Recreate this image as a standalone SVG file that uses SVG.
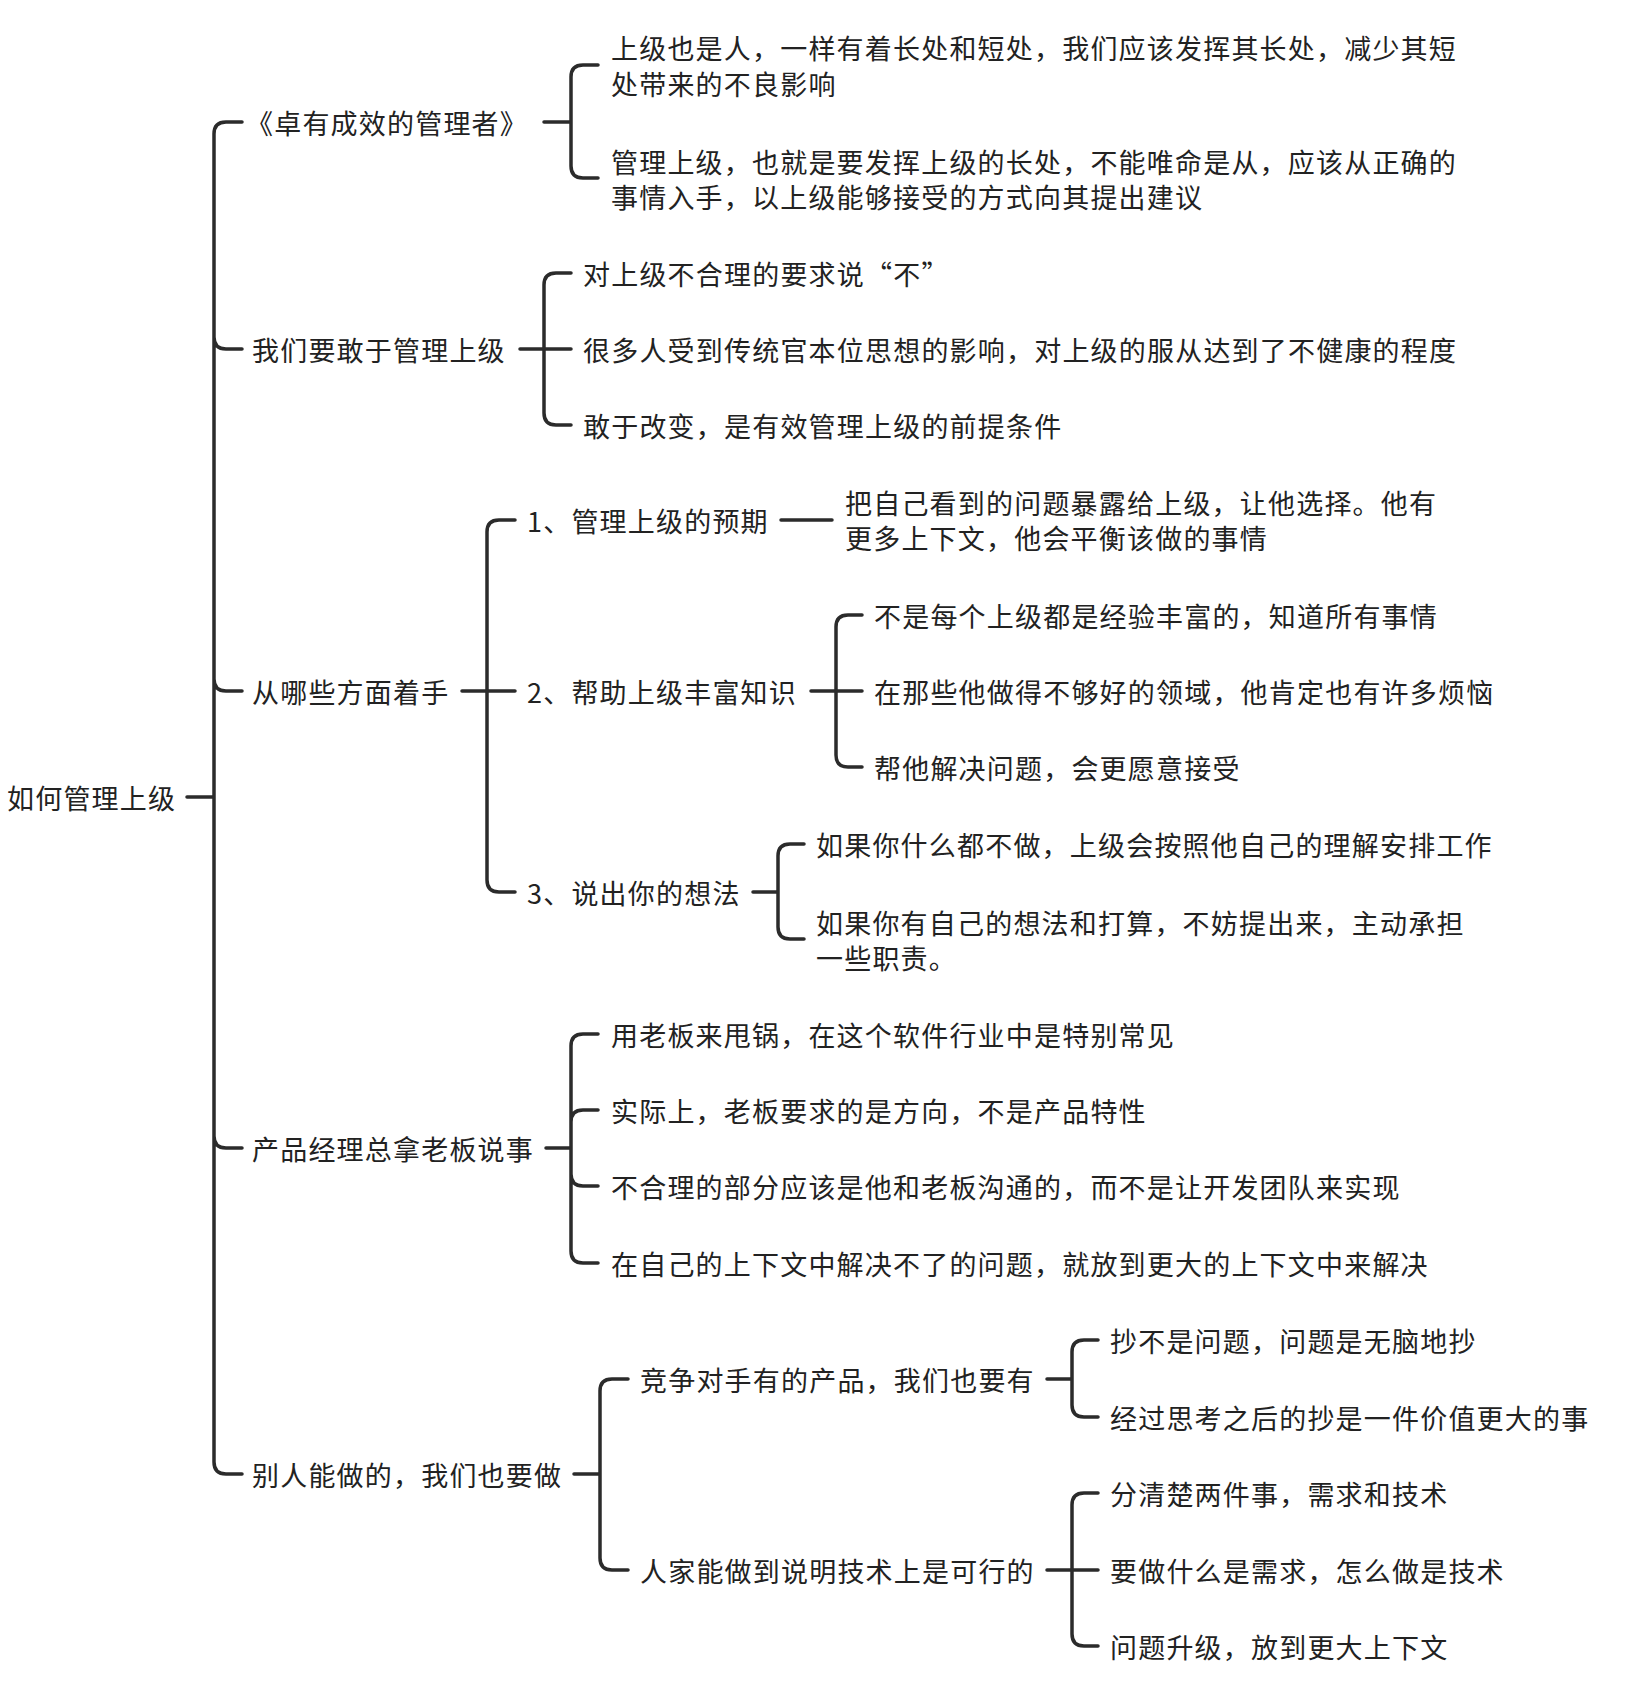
<svg xmlns="http://www.w3.org/2000/svg" width="1632" height="1694" viewBox="0 0 1632 1694">
<style>
text{font-family:"Noto Sans CJK SC","Noto Sans",sans-serif;font-size:27px;fill:#222;dominant-baseline:central;letter-spacing:1.2px}
path{fill:none;stroke:#2b2b2b;stroke-width:3.5;stroke-linecap:round}
</style>
<rect width="1632" height="1694" fill="#fff"/>
<g id="connectors">
<path d="M187 797H214M214 797V134Q214 122 226 122H242M214 797V337Q214 349 226 349H242M214 797V679Q214 691 226 691H242M214 797V1136Q214 1148 226 1148H242M214 797V1462Q214 1474 226 1474H242"/>
<path d="M544 122H571M571 122V77Q571 65 583 65H598M571 122V166Q571 178 583 178H598"/>
<path d="M520 349H571M544 349V285Q544 273 556 273H571M544 349V413Q544 425 556 425H571"/>
<path d="M462 691H515M487 691V532Q487 520 499 520H515M487 691V880Q487 892 499 892H515"/>
<path d="M781 520H832"/>
<path d="M811 691H862M836 691V627Q836 615 848 615H862M836 691V755Q836 767 848 767H862"/>
<path d="M753 892H778M778 892V856Q778 844 790 844H804M778 892V927Q778 939 790 939H804"/>
<path d="M546 1148H571M571 1148V1046Q571 1034 583 1034H598M571 1148V1122Q571 1110 583 1110H598M571 1148V1174Q571 1186 583 1186H598M571 1148V1251Q571 1263 583 1263H598"/>
<path d="M574 1474H600M600 1474V1391Q600 1379 612 1379H628M600 1474V1558Q600 1570 612 1570H628"/>
<path d="M1047 1379H1072M1072 1379V1352Q1072 1340 1084 1340H1098M1072 1379V1405Q1072 1417 1084 1417H1098"/>
<path d="M1047 1570H1098M1072 1570V1505Q1072 1493 1084 1493H1098M1072 1570V1634Q1072 1646 1084 1646H1098"/>
</g>
<g id="root"><text x="7" y="797">如何管理上级</text></g>
<g id="n1"><text x="246" y="122">《卓有成效的管理者》</text></g>
<g id="n1a"><text x="611" y="47">上级也是人，一样有着长处和短处，我们应该发挥其长处，减少其短</text><text x="611" y="83">处带来的不良影响</text></g>
<g id="n1b"><text x="611" y="161">管理上级，也就是要发挥上级的长处，不能唯命是从，应该从正确的</text><text x="611" y="196">事情入手，以上级能够接受的方式向其提出建议</text></g>
<g id="n2"><text x="252" y="349">我们要敢于管理上级</text></g>
<g id="n2a"><text x="583" y="273">对上级不合理的要求说“不”</text></g>
<g id="n2b"><text x="583" y="349">很多人受到传统官本位思想的影响，对上级的服从达到了不健康的程度</text></g>
<g id="n2c"><text x="583" y="425">敢于改变，是有效管理上级的前提条件</text></g>
<g id="n3"><text x="252" y="691">从哪些方面着手</text></g>
<g id="n31"><text x="527" y="520">1、管理上级的预期</text></g>
<g id="n31a"><text x="845" y="502">把自己看到的问题暴露给上级，让他选择。他有</text><text x="845" y="537">更多上下文，他会平衡该做的事情</text></g>
<g id="n32"><text x="527" y="691">2、帮助上级丰富知识</text></g>
<g id="n32a"><text x="874" y="615">不是每个上级都是经验丰富的，知道所有事情</text></g>
<g id="n32b"><text x="874" y="691">在那些他做得不够好的领域，他肯定也有许多烦恼</text></g>
<g id="n32c"><text x="874" y="767">帮他解决问题，会更愿意接受</text></g>
<g id="n33"><text x="527" y="892">3、说出你的想法</text></g>
<g id="n33a"><text x="816" y="844">如果你什么都不做，上级会按照他自己的理解安排工作</text></g>
<g id="n33b"><text x="816" y="922">如果你有自己的想法和打算，不妨提出来，主动承担</text><text x="816" y="957">一些职责。</text></g>
<g id="n4"><text x="252" y="1148">产品经理总拿老板说事</text></g>
<g id="n4a"><text x="611" y="1034">用老板来甩锅，在这个软件行业中是特别常见</text></g>
<g id="n4b"><text x="611" y="1110">实际上，老板要求的是方向，不是产品特性</text></g>
<g id="n4c"><text x="611" y="1186">不合理的部分应该是他和老板沟通的，而不是让开发团队来实现</text></g>
<g id="n4d"><text x="611" y="1263">在自己的上下文中解决不了的问题，就放到更大的上下文中来解决</text></g>
<g id="n5"><text x="252" y="1474">别人能做的，我们也要做</text></g>
<g id="n51"><text x="640" y="1379">竞争对手有的产品，我们也要有</text></g>
<g id="n51a"><text x="1110" y="1340">抄不是问题，问题是无脑地抄</text></g>
<g id="n51b"><text x="1110" y="1417">经过思考之后的抄是一件价值更大的事</text></g>
<g id="n52"><text x="640" y="1570">人家能做到说明技术上是可行的</text></g>
<g id="n52a"><text x="1110" y="1493">分清楚两件事，需求和技术</text></g>
<g id="n52b"><text x="1110" y="1570">要做什么是需求，怎么做是技术</text></g>
<g id="n52c"><text x="1110" y="1646">问题升级，放到更大上下文</text></g>
</svg>
